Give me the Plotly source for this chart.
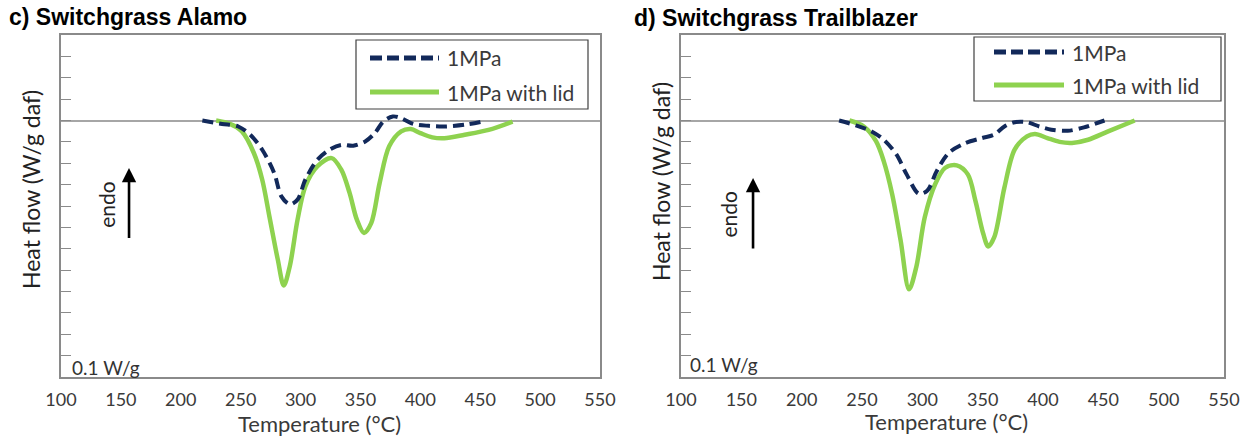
import plotly.graph_objects as go

# ---- data: DSC heat flow (W/g daf) vs temperature (°C) ----
alamo_T_1mpa = [218, 234.5, 248, 258, 268, 278, 284, 291, 297.5, 304, 314, 324, 334, 344, 354, 362, 369, 377, 384, 394, 407, 420, 437, 452]
alamo_hf_1mpa = [0.0, -0.016, -0.028, -0.067, -0.137, -0.246, -0.355, -0.392, -0.37, -0.277, -0.184, -0.137, -0.114, -0.118, -0.098, -0.059, -0.005, 0.019, 0.011, -0.016, -0.025, -0.028, -0.020, -0.005]

alamo_T_lid = [229.5, 241, 251, 261, 268, 274, 281, 286, 291, 297.5, 304, 314, 326, 334, 341, 347, 353, 359, 366, 374, 384, 392, 400, 410, 420, 437, 457, 477]
alamo_hf_lid = [0.0, -0.016, -0.051, -0.152, -0.277, -0.449, -0.651, -0.772, -0.682, -0.464, -0.308, -0.215, -0.176, -0.23, -0.34, -0.464, -0.526, -0.48, -0.293, -0.121, -0.051, -0.04, -0.059, -0.079, -0.083, -0.067, -0.044, -0.005]

trail_T_1mpa = [231, 245, 258, 268, 278.5, 287, 297, 304, 312, 322, 336, 349.5, 359.6, 368, 376.5, 386.7, 397, 407, 420.5, 434, 451]
trail_hf_1mpa = [0.0, -0.023, -0.051, -0.09, -0.159, -0.252, -0.342, -0.329, -0.236, -0.151, -0.105, -0.082, -0.066, -0.028, -0.008, -0.008, -0.028, -0.043, -0.048, -0.032, 0.0]

trail_T_lid = [239.6, 251.5, 261.6, 268, 275, 282, 289, 295, 302, 310.6, 319, 328.5, 337.7, 344, 350.5, 354.6, 359.6, 368, 376.5, 386.7, 393.4, 403.6, 413.7, 424, 437.4, 454, 476]
trail_hf_lid = [0.0, -0.028, -0.097, -0.19, -0.345, -0.561, -0.79, -0.685, -0.453, -0.298, -0.221, -0.21, -0.252, -0.376, -0.53, -0.589, -0.546, -0.314, -0.136, -0.074, -0.063, -0.082, -0.1, -0.105, -0.09, -0.051, 0.0]

panel_titles = ["c) Switchgrass Alamo", "d) Switchgrass Trailblazer"]
series_names = ["1MPa", "1MPa with lid"]
x_tick_vals = [100, 150, 200, 250, 300, 350, 400, 450, 500, 550]
y_tick_vals = [-1.1, -1.0, -0.9, -0.8, -0.7, -0.6, -0.5, -0.4, -0.3, -0.2, -0.1, 0.0, 0.1, 0.2, 0.3]

# ---- styling ----
W, H = 1254, 439
NAVY = "#12295a"
GREEN = "#8ed24f"
FRAME = "#8a8a8a"
TEXT = "#3a3a3a"
FONT = "Lato"
X_RANGE = [100, 550]
Y_RANGE = [-1.2, 0.4]


def px(x, y):
    """Pixel position -> paper coordinates."""
    return x / W, 1 - y / H


top_y, bot_y = px(0, 35)[1], px(0, 377)[1]
dom_left = [61 / W, 600 / W]
dom_right = [681 / W, 1224 / W]
zero_pos = bot_y + (0 - Y_RANGE[0]) / (Y_RANGE[1] - Y_RANGE[0]) * (top_y - bot_y)

fig = go.Figure()

panels = [
    ("x", "y", alamo_T_1mpa, alamo_hf_1mpa, alamo_T_lid, alamo_hf_lid),
    ("x2", "y2", trail_T_1mpa, trail_hf_1mpa, trail_T_lid, trail_hf_lid),
]
for xa, ya, t1, h1, t2, h2 in panels:
    fig.add_trace(go.Scatter(x=t2, y=h2, mode="lines", name=series_names[1], xaxis=xa, yaxis=ya,
                             line=dict(color=GREEN, width=4.5, shape="spline", smoothing=0.9),
                             showlegend=False))
    fig.add_trace(go.Scatter(x=t1, y=h1, mode="lines", name=series_names[0], xaxis=xa, yaxis=ya,
                             line=dict(color=NAVY, width=4, dash="11px,6px", shape="spline", smoothing=0.9),
                             showlegend=False))


def x_axis(domain, anchor):
    return dict(domain=domain, anchor=anchor, range=X_RANGE, tickvals=x_tick_vals,
                showline=True, linecolor=FRAME, linewidth=1.5, mirror=True,
                ticks="", showgrid=False, zeroline=False, automargin=False,
                tickfont=dict(family=FONT, size=18, color=TEXT), ticklabelstandoff=6)


def y_axis(anchor):
    return dict(domain=[bot_y, top_y], anchor=anchor, range=Y_RANGE, tickvals=y_tick_vals,
                showline=True, linecolor=FRAME, linewidth=1.5, mirror=True,
                ticks="inside", ticklen=10, tickcolor=FRAME, tickwidth=1.2,
                showticklabels=False, showgrid=False, automargin=False,
                zeroline=True, zerolinecolor="#a6a6a6", zerolinewidth=1.5)


def zero_axis(overlay):
    # tick marks sitting on the y = 0 line
    return dict(overlaying=overlay, anchor="free", position=zero_pos, range=X_RANGE,
                tickvals=x_tick_vals[1:-1], ticks="inside", ticklen=7, tickcolor=FRAME, tickwidth=1.2,
                showticklabels=False, showline=False, showgrid=False, zeroline=False, automargin=False)


fig.update_layout(
    width=W, height=H, margin=dict(l=0, r=0, t=0, b=0, autoexpand=False),
    paper_bgcolor="white", plot_bgcolor="white",
    xaxis=x_axis(dom_left, "y"), yaxis=y_axis("x"),
    xaxis2=x_axis(dom_right, "y2"), yaxis2=y_axis("x2"),
    xaxis3=zero_axis("x"), xaxis4=zero_axis("x2"),
    showlegend=False,
)

annotations = []
shapes = []


def text_at(x, y, s, size, bold=False, anchor="center", angle=0, family=FONT, color=TEXT):
    xp, yp = px(x, y)
    annotations.append(dict(x=xp, y=yp, xref="paper", yref="paper", text=f"<b>{s}</b>" if bold else s,
                            showarrow=False, xanchor=anchor, yanchor="middle", textangle=angle,
                            font=dict(family=family, size=size, color=color)))


# panel titles
text_at(7, 17, panel_titles[0], 23, bold=True, anchor="left", family="Liberation Sans", color="black")
text_at(632, 18, panel_titles[1], 23, bold=True, anchor="left", family="Liberation Sans", color="black")

# axis titles
for cx, cy in [(31, 190), (661, 182)]:
    text_at(cx, cy, "Heat flow (W/g daf)", 23, angle=-90, color="#222222")
for cx, cy in [(319, 423), (946, 421)]:
    text_at(cx, cy, "Temperature (°C)", 22, color=TEXT)

# endo arrows, labels and scale note, in data coordinates
for xa, ya, ax_t, head, tail, lab_t, lab_y, note_t, note_y in [
    ("x", "y", 156.8, -0.222, -0.557, 138.4, -0.39, 107.5, -1.155),
    ("x2", "y2", 159.7, -0.269, -0.606, 139.8, -0.44, 105.8, -1.14),
]:
    annotations.append(dict(x=ax_t, y=head, ax=ax_t, ay=tail, xref=xa, yref=ya, axref=xa, ayref=ya,
                            showarrow=True, arrowhead=2, arrowsize=1.1, arrowwidth=2.6, arrowcolor="black",
                            text=""))
    annotations.append(dict(x=lab_t, y=lab_y, xref=xa, yref=ya, text="endo", showarrow=False,
                            textangle=-90, font=dict(family=FONT, size=21, color="#222222")))
    annotations.append(dict(x=note_t, y=note_y, xref=xa, yref=ya, text="0.1 W/g", showarrow=False,
                            xanchor="left", font=dict(family=FONT, size=19, color="#333333")))

# legend boxes
for (bx0, by0, bx1, by1), (lx0, lx1), (r1, r2) in [
    ((356, 40, 588, 109), (370, 439), (58, 92)),
    ((974, 37, 1221, 101), (994, 1064), (52, 85)),
]:
    x0, y0 = px(bx0, by0)
    x1, y1 = px(bx1, by1)
    shapes.append(dict(type="rect", xref="paper", yref="paper", x0=x0, y0=y1, x1=x1, y1=y0,
                       line=dict(color="#404040", width=1.2), fillcolor="white"))
    for ry, col, dash, name in [(r1, NAVY, "12px,5px", series_names[0]), (r2, GREEN, "solid", series_names[1])]:
        a, b = px(lx0, ry)
        c, _ = px(lx1, ry)
        shapes.append(dict(type="line", xref="paper", yref="paper", x0=a, y0=b, x1=c, y1=b,
                           line=dict(color=col, width=5, dash=dash)))
        text_at(lx1 + 6, ry, name, 21, anchor="left", color=TEXT)

fig.update_layout(annotations=annotations, shapes=shapes)

fig.write_html("out.html")
